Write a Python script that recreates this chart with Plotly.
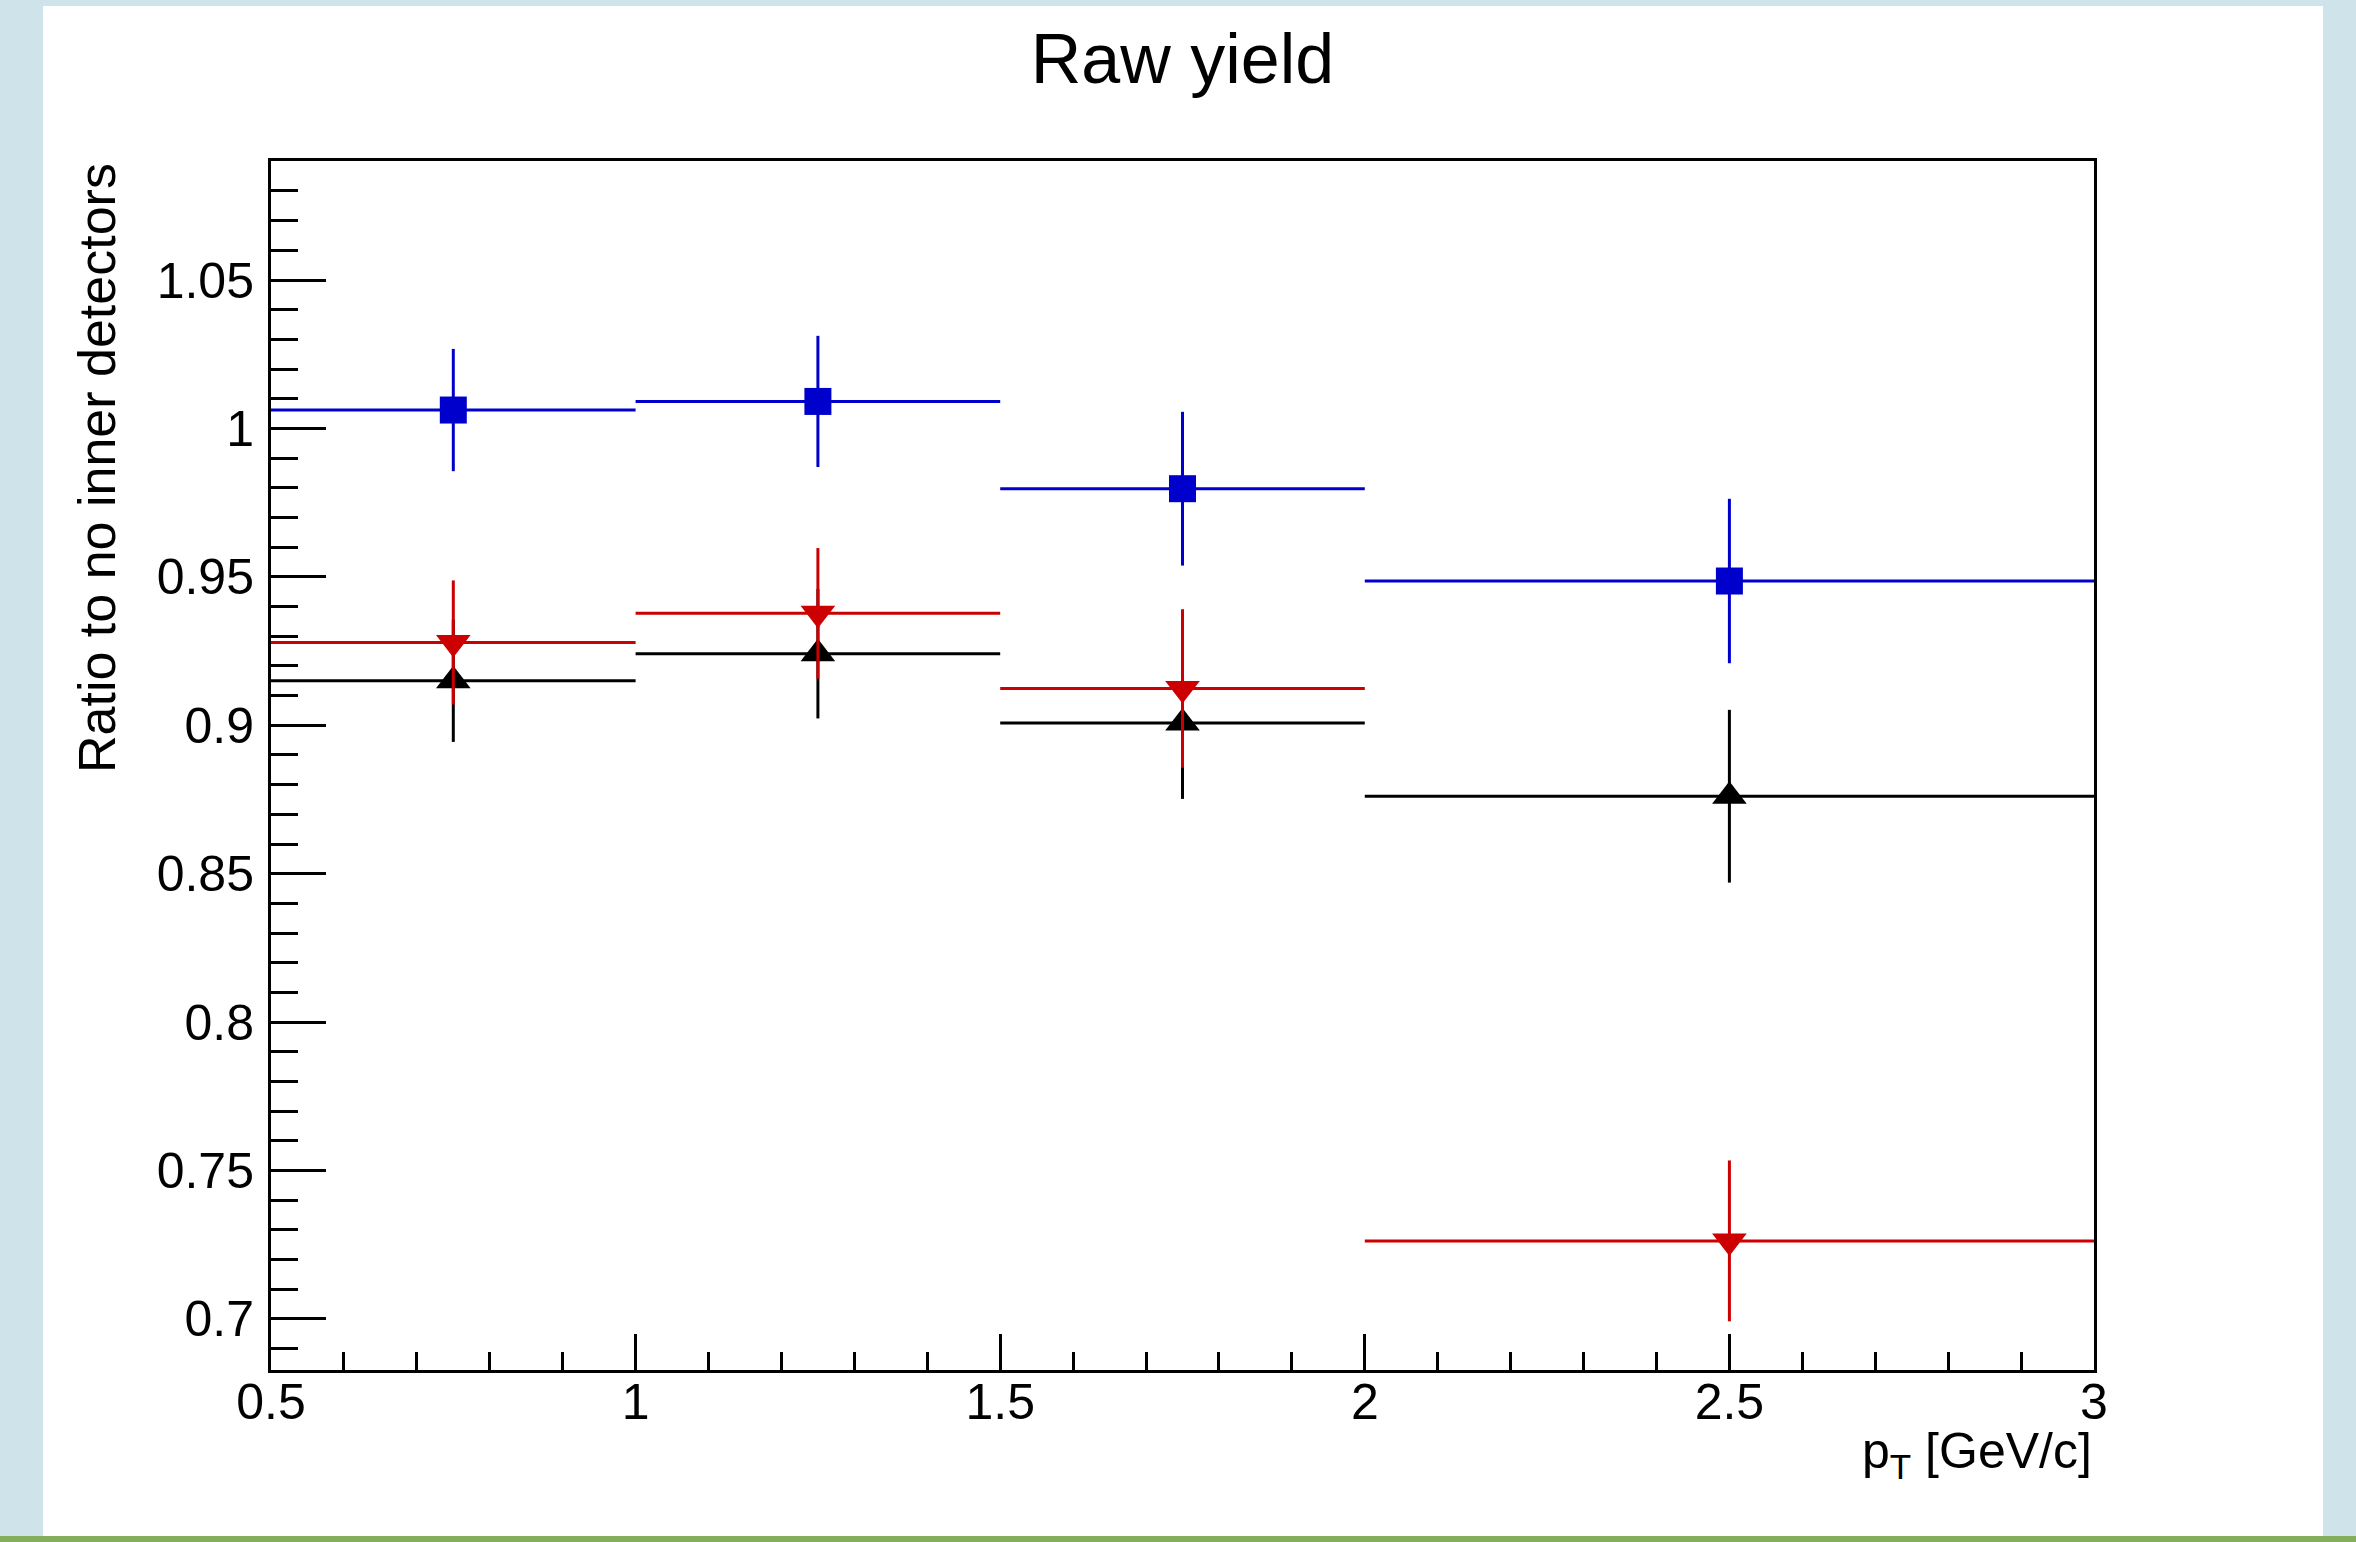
import plotly.graph_objects as go

# ---------------- data ----------------
pt_centers = [0.75, 1.25, 1.75, 2.5]
pt_halfwidth = [0.25, 0.25, 0.25, 0.5]

blue_vals = [1.0062, 1.0091, 0.9797, 0.9486]
blue_errs = [0.0206, 0.0221, 0.0259, 0.0277]

red_vals = [0.9279, 0.9377, 0.9124, 0.7263]
red_errs = [0.0209, 0.0220, 0.0267, 0.0271]

black_vals = [0.9150, 0.9241, 0.9008, 0.8761]
black_errs = [0.0206, 0.0218, 0.0256, 0.0291]

x_tickvals = [0.5, 1, 1.5, 2, 2.5, 3]
x_ticktext = ["0.5", "1", "1.5", "2", "2.5", "3"]
y_tickvals = [0.7, 0.75, 0.8, 0.85, 0.9, 0.95, 1.0, 1.05]
y_ticktext = ["0.7", "0.75", "0.8", "0.85", "0.9", "0.95", "1", "1.05"]

title_text = "Raw yield"
x_title = "p<sub>T</sub> [GeV/c]"
y_title = "Ratio to no inner detectors"

# ---------------- layout geometry ----------------
W, H = 2356, 1542
L, R, T, B = 271, 2094, 161, 1370   # plot-area pixel box
pw, ph = R - L, B - T
BG = "#cfe4ea"


def px_x(px):
    return (px - L) / pw


def px_y(py):
    return (B - py) / ph


FONT = "Liberation Sans, Arial, Helvetica, sans-serif"

fig = go.Figure()

series = [
    ("black", black_vals, black_errs, "#000000", "triangle-up", 30),
    ("red", red_vals, red_errs, "#cc0000", "triangle-down", 30),
    ("blue", blue_vals, blue_errs, "#0000cc", "square", 27),
]
for name, vals, errs, col, sym, msize in series:
    fig.add_trace(go.Scatter(
        x=pt_centers, y=vals, mode="markers", name=name, showlegend=False,
        marker=dict(symbol=sym, size=msize, color=col, line=dict(width=0)),
        error_x=dict(type="data", array=pt_halfwidth, color=col, thickness=3, width=0),
        error_y=dict(type="data", array=errs, color=col, thickness=3, width=0),
    ))

axis_common = dict(
    showline=True, linecolor="black", linewidth=3, mirror=True,
    showgrid=False, zeroline=False, ticks="inside", tickcolor="black", tickwidth=3,
    tickfont=dict(family=FONT, size=50, color="black"),
)

fig.update_xaxes(
    range=[0.5, 3.0], tickvals=x_tickvals, ticktext=x_ticktext, ticklen=36,
    minor=dict(dtick=0.1, tick0=0.5, ticks="inside", ticklen=18, tickwidth=3,
               tickcolor="black", showgrid=False),
    ticklabelstandoff=-14,
    **axis_common,
)
fig.update_yaxes(
    range=[0.6828, 1.0901], tickvals=y_tickvals, ticktext=y_ticktext, ticklen=55,
    minor=dict(dtick=0.01, tick0=0.7, ticks="inside", ticklen=27, tickwidth=3,
               tickcolor="black", showgrid=False),
    ticklabelstandoff=4,
    **axis_common,
)

shapes = [
    # white canvas panel
    dict(type="rect", xref="paper", yref="paper", layer="below",
         x0=px_x(43), x1=px_x(2323), y0=px_y(1536), y1=px_y(6),
         fillcolor="white", line=dict(width=0)),
    # green strip at the bottom
    dict(type="rect", xref="paper", yref="paper", layer="below",
         x0=px_x(0), x1=px_x(W), y0=px_y(H), y1=px_y(1536),
         fillcolor="#84ad5c", line=dict(width=0)),
]

annotations = [
    dict(text=y_title, xref="paper", yref="paper", x=px_x(97), y=1.0,
         xanchor="center", yanchor="top", textangle=-90, showarrow=False,
         font=dict(family=FONT, size=52, color="black")),
    dict(text=x_title, xref="paper", yref="paper", x=1.0, y=px_y(1454),
         xanchor="right", yanchor="middle", showarrow=False,
         font=dict(family=FONT, size=50, color="black")),
]

fig.update_layout(
    width=W, height=H,
    margin=dict(l=L, r=W - R, t=T, b=H - B, pad=0),
    paper_bgcolor=BG, plot_bgcolor="white",
    title=dict(text=title_text, x=0.5, xref="paper", xanchor="center",
               y=1 - 58 / H, yref="container", yanchor="middle",
               font=dict(family=FONT, size=70, color="black")),
    shapes=shapes, annotations=annotations, showlegend=False,
)

fig.write_html(
    "out.html",
    config={"displayModeBar": False},
    post_script="document.body.style.margin='0px';document.body.style.background='%s';" % BG,
)
